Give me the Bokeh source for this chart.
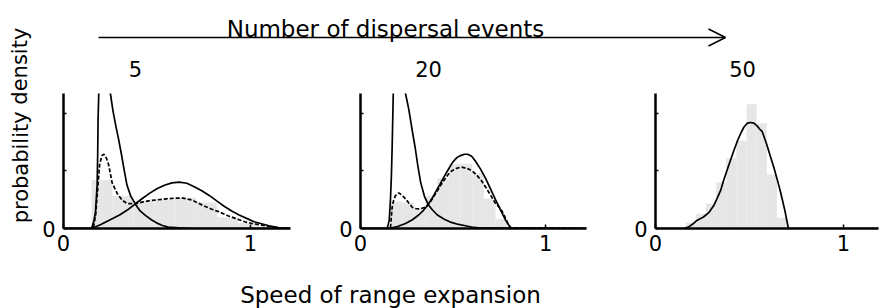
from bokeh.plotting import figure
from bokeh.layouts import row, column
from bokeh.models import Range1d, FixedTicker, Arrow, OpenHead
from bokeh.core.properties import value
from bokeh.embed import file_html
from bokeh.resources import INLINE

# ---------------- data (speed of range expansion, probability density) ----------------
# panel titles: number of dispersal events
events = ["5", "20", "50"]

# --- 5 dispersal events ---
p5_hist_edges = [0.15, 0.262, 0.374, 0.486, 0.598, 0.71, 0.822, 0.934, 1.046, 1.158]
p5_hist_heights = [0.36, 0.24, 0.205, 0.215, 0.228, 0.192, 0.084, 0.04, 0.012]

p5_sharp_x = [0.0, 0.15, 0.153, 0.163, 0.171, 0.18, 0.183, 0.185, 0.189, 0.2, 0.22, 0.24,
              0.251, 0.265, 0.28, 0.295, 0.31, 0.325, 0.34, 0.36, 0.385, 0.41, 0.44, 0.47,
              0.5, 0.53, 0.56, 0.62, 0.69, 1.215]
p5_sharp_y = [0.0, 0.0, 0.01, 0.06, 0.12, 0.32, 0.55, 0.81, 1.01, 1.5, 1.8, 1.3,
              1.0, 0.87, 0.76, 0.66, 0.55, 0.43, 0.32, 0.24, 0.18, 0.13, 0.095, 0.065,
              0.04, 0.022, 0.01, 0.004, 0.0, 0.0]

p5_broad_x = [0.0, 0.15, 0.16, 0.2, 0.25, 0.3, 0.35, 0.385, 0.42, 0.46, 0.5, 0.54, 0.58,
              0.62, 0.66, 0.7, 0.74, 0.78, 0.82, 0.86, 0.9, 0.94, 0.98, 1.02, 1.06, 1.1,
              1.15, 1.215]
p5_broad_y = [0.0, 0.0, 0.005, 0.03, 0.065, 0.1, 0.145, 0.183, 0.22, 0.26, 0.295, 0.32,
              0.338, 0.343, 0.335, 0.31, 0.28, 0.245, 0.205, 0.165, 0.13, 0.1, 0.075,
              0.05, 0.035, 0.02, 0.007, 0.0]

p5_mix_x = [0.0, 0.15, 0.162, 0.172, 0.18, 0.193, 0.205, 0.216, 0.23, 0.242, 0.26, 0.287,
            0.314, 0.34, 0.385, 0.42, 0.456, 0.5, 0.55, 0.6, 0.64, 0.69, 0.74, 0.79, 0.83,
            0.88, 0.92, 0.97, 1.01, 1.06, 1.1, 1.15, 1.215]
p5_mix_y = [0.0, 0.0, 0.02, 0.1, 0.24, 0.47, 0.54, 0.55, 0.52, 0.47, 0.34, 0.26,
            0.21, 0.185, 0.183, 0.195, 0.205, 0.212, 0.22, 0.225, 0.225, 0.21, 0.175,
            0.145, 0.125, 0.095, 0.075, 0.05, 0.037, 0.025, 0.015, 0.005, 0.0]

# --- 20 dispersal events ---
p20_hist_edges = [0.162, 0.225, 0.288, 0.351, 0.414, 0.477, 0.54, 0.603, 0.666, 0.729, 0.792]
p20_hist_heights = [0.2, 0.19, 0.15, 0.24, 0.37, 0.48, 0.48, 0.41, 0.22, 0.07]

p20_sharp_x = [0.0, 0.14, 0.146, 0.155, 0.162, 0.167, 0.171, 0.177, 0.19, 0.21, 0.23,
               0.243, 0.261, 0.28, 0.295, 0.31, 0.325, 0.346, 0.369, 0.39, 0.415, 0.45,
               0.49, 0.53, 0.56, 0.6, 0.65, 1.22]
p20_sharp_y = [0.0, 0.0, 0.01, 0.06, 0.22, 0.4, 0.61, 1.01, 1.5, 1.8, 1.5,
               1.0, 0.88, 0.72, 0.6, 0.46, 0.34, 0.235, 0.17, 0.135, 0.1, 0.07,
               0.045, 0.03, 0.022, 0.01, 0.003, 0.0]

p20_broad_x = [0.0, 0.15, 0.2, 0.243, 0.28, 0.314, 0.34, 0.362, 0.385, 0.405, 0.428, 0.45,
               0.473, 0.497, 0.52, 0.54, 0.56, 0.578, 0.6, 0.62, 0.648, 0.676, 0.703,
               0.73, 0.757, 0.784, 0.8, 0.816, 1.22]
p20_broad_y = [0.0, 0.0, 0.015, 0.037, 0.065, 0.1, 0.135, 0.17, 0.22, 0.27, 0.325, 0.38,
               0.435, 0.49, 0.525, 0.54, 0.55, 0.55, 0.535, 0.5, 0.44, 0.37, 0.29,
               0.21, 0.135, 0.06, 0.025, 0.0, 0.0]

p20_mix_x = [0.0, 0.155, 0.162, 0.171, 0.18, 0.189, 0.207, 0.225, 0.243, 0.26, 0.279,
             0.297, 0.315, 0.333, 0.351, 0.378, 0.405, 0.428, 0.45, 0.473, 0.496, 0.523,
             0.55, 0.585, 0.61, 0.631, 0.655, 0.676, 0.703, 0.73, 0.755, 0.775, 0.795,
             0.81, 1.22]
p20_mix_y = [0.0, 0.0, 0.01, 0.16, 0.215, 0.244, 0.264, 0.245, 0.22, 0.19, 0.158,
             0.148, 0.146, 0.15, 0.158, 0.2, 0.257, 0.31, 0.356, 0.4, 0.43, 0.448,
             0.454, 0.44, 0.418, 0.39, 0.35, 0.306, 0.245, 0.183, 0.15, 0.1, 0.04,
             0.005, 0.0]

# --- 50 dispersal events ---
p50_hist_edges = [0.16, 0.214, 0.268, 0.322, 0.376, 0.43, 0.484, 0.538, 0.592, 0.646, 0.70]
p50_hist_heights = [0.044, 0.11, 0.185, 0.34, 0.52, 0.65, 0.92, 0.78, 0.40, 0.08]

p50_x = [0.0, 0.15, 0.175, 0.2, 0.22, 0.255, 0.285, 0.31, 0.33, 0.346, 0.363, 0.39, 0.415,
         0.436, 0.455, 0.47, 0.488, 0.505, 0.523, 0.54, 0.555, 0.567, 0.59, 0.612, 0.63,
         0.648, 0.665, 0.687, 0.707, 1.19]
p50_y = [0.0, 0.0, 0.01, 0.035, 0.06, 0.085, 0.12, 0.17, 0.23, 0.28, 0.36, 0.47, 0.57,
         0.65, 0.71, 0.75, 0.78, 0.785, 0.78, 0.76, 0.735, 0.72, 0.63, 0.53, 0.45,
         0.36, 0.27, 0.14, 0.0, 0.0]

x_ticks = [0, 1]
y_ticks = [0]
y_minor_ticks = [0.426, 0.852]

# ---------------- styling ----------------
FONT = value("DejaVu Sans")
FILL = "#e6e6e6"
LW = 1.7


def deco(width, height, xr, yr):
    f = figure(width=width, height=height, x_range=Range1d(*xr), y_range=Range1d(*yr),
               output_backend="svg", toolbar_location=None,
               x_axis_type=None, y_axis_type=None, min_border=0)
    f.outline_line_color = None
    f.background_fill_color = "white"
    f.border_fill_color = "white"
    return f


def panel(width, left, right, xmax, edges, heights, curves):
    p = figure(width=width, height=182, x_range=Range1d(0, xmax), y_range=Range1d(0, 1),
               output_backend="svg", toolbar_location=None,
               min_border_left=left, min_border_right=right,
               min_border_top=13, min_border_bottom=34)
    p.grid.visible = False
    p.outline_line_color = None
    p.background_fill_color = "white"
    p.border_fill_color = "white"
    p.quad(left=edges[:-1], right=edges[1:], bottom=0, top=heights,
           fill_color=FILL, line_color=None)
    for xs, ys, dash in curves:
        p.line(xs, ys, line_color="black", line_width=LW, line_dash=dash)
    p.xaxis.ticker = FixedTicker(ticks=x_ticks)
    p.yaxis.ticker = FixedTicker(ticks=y_ticks, minor_ticks=y_minor_ticks)
    p.axis.axis_line_width = 2.5
    p.axis.axis_line_color = "black"
    p.axis.major_tick_in = 4
    p.axis.major_tick_out = 0
    p.axis.minor_tick_in = 3
    p.axis.minor_tick_out = 0
    p.axis.major_tick_line_width = 1.5
    p.axis.minor_tick_line_width = 1.5
    p.axis.major_label_text_font = "DejaVu Sans"
    p.axis.major_label_text_font_size = "21px"
    p.axis.major_label_text_color = "black"
    p.xaxis.major_label_standoff = 6
    p.yaxis.major_label_standoff = 8
    return p


p1 = panel(295, 27, 41, 1.215, p5_hist_edges, p5_hist_heights,
           [(p5_mix_x, p5_mix_y, "4 2"), (p5_broad_x, p5_broad_y, "solid"),
            (p5_sharp_x, p5_sharp_y, "solid")])
p2 = panel(296, 29, 41, 1.22, p20_hist_edges, p20_hist_heights,
           [(p20_mix_x, p20_mix_y, "4 2"), (p20_broad_x, p20_broad_y, "solid"),
            (p20_sharp_x, p20_sharp_y, "solid")])
p3 = panel(252, 28, 1, 1.186, p50_hist_edges, p50_hist_heights,
           [(p50_x, p50_y, "solid")])

# left strip: y label (page coords)
left = deco(36, 308, (0, 36), (308, 0))
left.text(x=[20], y=[125], text=["probability density"], angle=1.5708,
          text_align="center", text_baseline="middle", text_font=FONT,
          text_font_size="21px", text_color="black")

# top strip: title, arrow, panel labels (page coords)
top = deco(843, 80, (36, 879), (80, 0))
top.text(x=[385], y=[28], text=["Number of dispersal events"], text_align="center",
         text_baseline="alphabetic", text_font=FONT, text_font_size="23px",
         text_color="black")
top.add_layout(Arrow(x_start=98, y_start=37, x_end=725, y_end=37,
                     line_width=1.5, line_color="black",
                     end=OpenHead(size=17, line_width=1.5, line_color="black")))
top.text(x=[135, 428, 742], y=[68, 68, 68], text=events, text_align="center",
         text_baseline="alphabetic", text_font=FONT, text_font_size="21px",
         text_color="black")

# bottom strip: x label (page coords)
bottom = deco(843, 46, (36, 879), (308, 262))
bottom.text(x=[390], y=[294], text=["Speed of range expansion"], text_align="center",
            text_baseline="alphabetic", text_font=FONT, text_font_size="23px",
            text_color="black")

layout = row(left, column(top, row(p1, p2, p3), bottom))

open("out.html", "w").write(file_html(layout, INLINE))
